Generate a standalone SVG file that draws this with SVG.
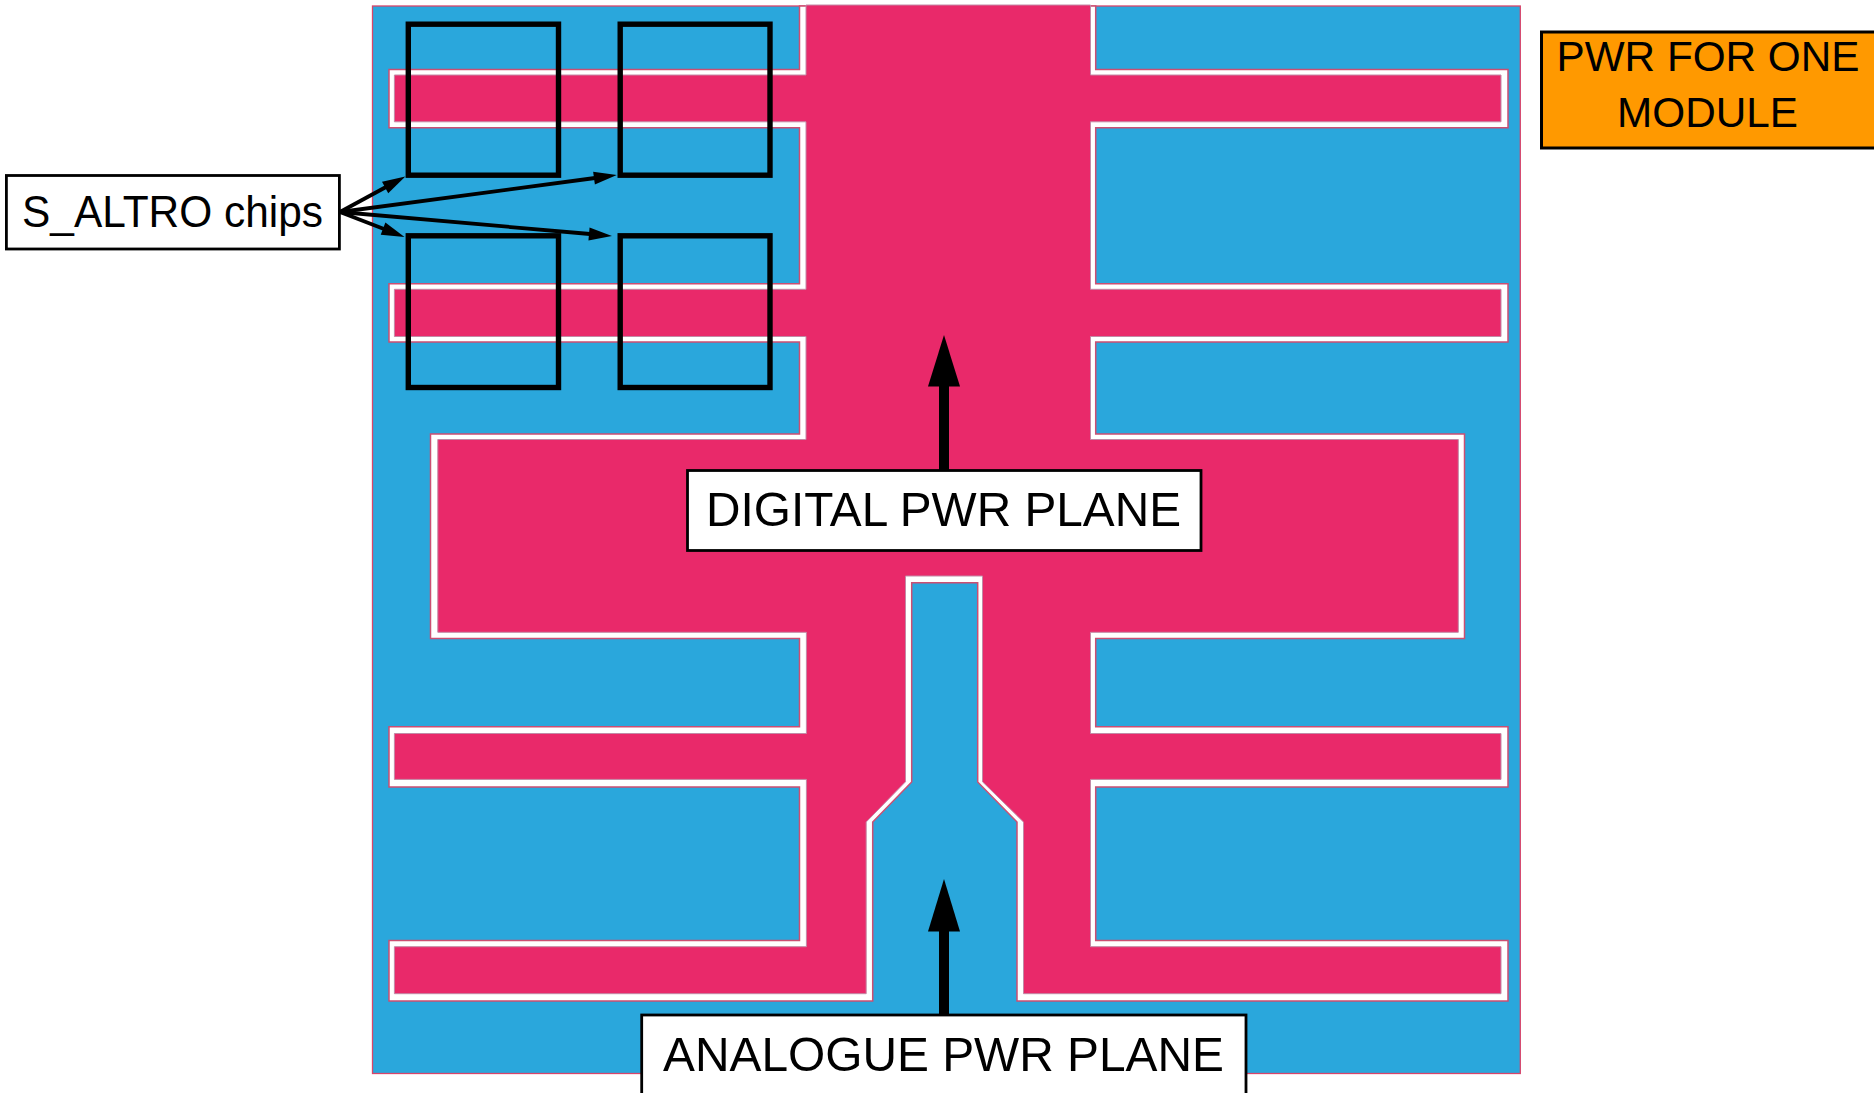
<svg xmlns="http://www.w3.org/2000/svg" width="1874" height="1093" viewBox="0 0 1874 1093">
<style>
.lbl{fill:#fff;stroke:#000;stroke-width:2.8}
.t{font-family:"Liberation Sans",Arial,sans-serif;fill:#000;text-anchor:start}
.chip{fill:none;stroke:#000;stroke-width:5.400}
.thin{stroke:#000;stroke-width:3.800;fill:none}
.thick{stroke:#000;stroke-width:10;fill:none}
</style>
<defs>
<marker id="ah" markerUnits="userSpaceOnUse" markerWidth="24" markerHeight="14" refX="1" refY="6.500" orient="auto" overflow="visible"><path d="M0 0L23 6.500L0 13Z" fill="#000"/></marker>
</defs>
<g id="board">
<rect x="372.500" y="6" width="1147.800" height="1067.500" fill="#2aa7dc" stroke="#d8456a" stroke-width="1.300"/>
<path id="isolation" fill="#fff" stroke="#cc4f72" stroke-width="1.500" d="M799.500 6V69.500H389V127.700H799.500V283.700H389V342H799.500V434H430.500V638.500H799.500V726.700H389V786.900H799.500V940.500H389V1001H872.700V822L911.700 782V582.800H977.700V782L1017 822V1001H1508V940.500H1095.700V786.900H1508V726.700H1095.700V638.500H1464.500V434H1095.700V342H1508V283.700H1095.700V127.700H1508V69.500H1095.700V6Z"/>
<path id="digital-plane" fill="#e9296a" stroke="#c28aa6" stroke-width="1" d="M806 5V75H394.400V121.800H806V289.300H394.400V336.500H806V439.500H437.800V632.300H806.400V733.500H394.400V779.400H806.400V946.700H394.400V993.700H866.200V822L905.500 781.800V576H982.500V781.800L1023.500 822V993.700H1501V946.700H1090.500V779.400H1501V733.500H1090.500V632.300H1458.300V439.500H1090.500V336.500H1501V289.300H1090.500V121.800H1501V75H1090.500V5Z"/>
</g>
<g id="chips">
<rect id="chip1" class="chip" x="408.300" y="24.200" width="150.200" height="151"/>
<rect id="chip2" class="chip" x="620.200" y="24.200" width="149.800" height="151"/>
<rect id="chip3" class="chip" x="408.300" y="235.800" width="150.200" height="151.700"/>
<rect id="chip4" class="chip" x="620.200" y="235.800" width="149.800" height="151.700"/>
</g>
<g id="connectors">
<path class="thin" marker-end="url(#ah)" d="M340 212L386 187"/>
<path class="thin" marker-end="url(#ah)" d="M340 212L595 178"/>
<path class="thin" marker-end="url(#ah)" d="M340 212L384 229"/>
<path class="thin" marker-end="url(#ah)" d="M340 212L590 234"/>
<path class="thick" d="M944 470V384"/>
<path fill="#000" d="M944 335L960 386.500H928Z"/>
<path class="thick" d="M944 1015V929"/>
<path fill="#000" d="M944 879L960 931.500H928Z"/>
</g>
<g id="salto-label">
<rect class="lbl" x="6.400" y="175.500" width="333" height="73.500"/>
<text class="t" x="22" y="226.500" font-size="44" textLength="301" lengthAdjust="spacingAndGlyphs">S_ALTRO chips</text>
</g>
<g id="digital-label">
<rect class="lbl" x="687.500" y="470.500" width="513.500" height="80"/>
<text class="t" x="706" y="526" font-size="49" textLength="475" lengthAdjust="spacingAndGlyphs">DIGITAL PWR PLANE</text>
</g>
<g id="analogue-label">
<rect class="lbl" x="641.700" y="1015" width="604.300" height="90"/>
<text class="t" x="663" y="1071" font-size="49" textLength="561" lengthAdjust="spacingAndGlyphs">ANALOGUE PWR PLANE</text>
</g>
<g id="module-label">
<rect x="1541.500" y="32" width="340" height="116" fill="#ff9900" stroke="#000" stroke-width="3"/>
<text class="t" x="1556.500" y="71" font-size="43" textLength="303" lengthAdjust="spacingAndGlyphs">PWR FOR ONE</text>
<text class="t" x="1617" y="127" font-size="43" textLength="181" lengthAdjust="spacingAndGlyphs">MODULE</text>
</g>
</svg>
